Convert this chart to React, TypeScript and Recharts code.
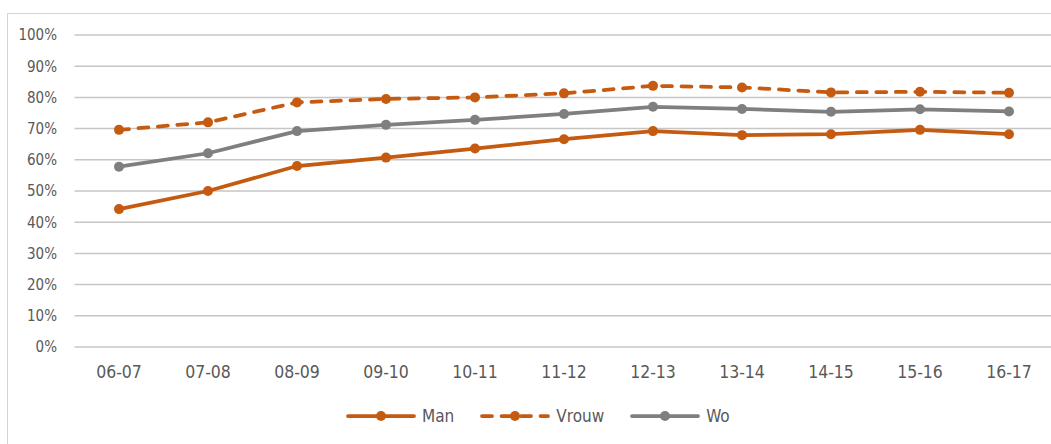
import { LineChart, Line, XAxis, YAxis, CartesianGrid, Legend } from "recharts";

const YEARS = ["06-07", "07-08", "08-09", "09-10", "10-11", "11-12", "12-13", "13-14", "14-15", "15-16", "16-17"];
const MAN = [44.2, 50.0, 58.0, 60.7, 63.6, 66.6, 69.2, 67.9, 68.2, 69.6, 68.2];
const VROUW = [69.6, 72.0, 78.4, 79.5, 80.0, 81.3, 83.7, 83.2, 81.6, 81.8, 81.5];
const WO = [57.8, 62.1, 69.2, 71.2, 72.8, 74.7, 77.0, 76.3, 75.4, 76.2, 75.5];
const Y_TICKS = [0, 10, 20, 30, 40, 50, 60, 70, 80, 90, 100];

const ORANGE = "#C55A11";
const GREY = "#7F7F7F";
const TEXT = "#595959";
const FONT = "'DejaVu Sans Condensed', 'Liberation Sans', sans-serif";
const DASH = "10 9.5";

const data = YEARS.map((year, i) => ({
  year,
  man: MAN[i],
  vrouw: VROUW[i],
  wo: WO[i],
}));

function LegendContent({ payload }: { payload?: Array<{ value: string; color: string; payload?: { strokeDasharray?: string } }> }) {
  if (!payload?.length) return null;
  return (
    <div style={{ display: "flex", alignItems: "center", gap: 26, fontFamily: FONT, fontSize: 17, color: TEXT }}>
      {payload.map((item) => (
        <div key={item.value} style={{ display: "flex", alignItems: "center", height: 20 }}>
          <svg width={70} height={20}>
            <line
              x1={2}
              x2={68}
              y1={10}
              y2={10}
              stroke={item.color}
              strokeWidth={3.75}
              strokeLinecap="round"
              strokeDasharray={item.payload?.strokeDasharray}
            />
            <circle cx={35} cy={10} r={5} fill={item.color} />
          </svg>
          <span style={{ marginLeft: 6, lineHeight: "20px" }}>{item.value}</span>
        </div>
      ))}
    </div>
  );
}

export default function App() {
  return (
    <div style={{ position: "absolute", left: 0, top: 0, width: 1051, height: 444, overflow: "hidden", background: "#fff" }}>
      <div
        style={{
          position: "absolute",
          left: 7,
          top: 13,
          width: 1100,
          height: 500,
          border: "1px solid #d3d3d3",
        }}
      />
      <div style={{ position: "absolute", left: 0, top: 0 }}>
        <LineChart width={1060} height={444} data={data} margin={{ top: 35, right: 6.5, bottom: 57, left: 0 }}>
          <CartesianGrid vertical={false} stroke="#c6c6c6" strokeWidth={1.5} />
          <XAxis
            dataKey="year"
            axisLine={false}
            tickLine={false}
            tickMargin={13}
            height={40}
            interval={0}
            padding={{ left: 44.5, right: 44.5 }}
            tick={{ fill: TEXT, fontSize: 17.5, fontFamily: FONT }}
          />
          <YAxis
            domain={[0, 100]}
            ticks={Y_TICKS}
            width={74.5}
            axisLine={false}
            tickLine={false}
            tickMargin={11.5}
            tickFormatter={(v: number) => `${v}%`}
            tick={{ fill: TEXT, fontSize: 15, fontFamily: FONT }}
          />
          <Line
            name="Man"
            dataKey="man"
            stroke={ORANGE}
            strokeWidth={3.75}
            dot={{ r: 5, fill: ORANGE, stroke: "none" }}
            isAnimationActive={false}
          />
          <Line
            name="Vrouw"
            dataKey="vrouw"
            stroke={ORANGE}
            strokeWidth={3.75}
            strokeDasharray={DASH}
            strokeLinecap="round"
            dot={{ r: 5, fill: ORANGE, stroke: "none", strokeDasharray: "" }}
            isAnimationActive={false}
          />
          <Line
            name="Wo"
            dataKey="wo"
            stroke={GREY}
            strokeWidth={3.75}
            dot={{ r: 5, fill: GREY, stroke: "none" }}
            isAnimationActive={false}
          />
          <Legend
            layout="horizontal"
            verticalAlign="middle"
            align="center"
            wrapperStyle={{ top: 406, left: 346, width: "auto" }}
            content={<LegendContent />}
          />
        </LineChart>
      </div>
    </div>
  );
}
